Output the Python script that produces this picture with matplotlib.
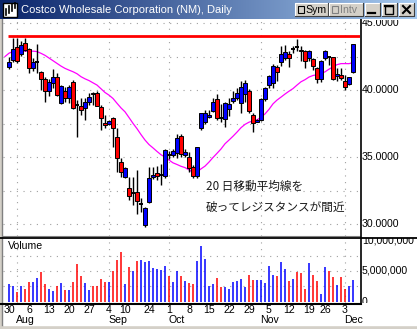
import numpy as np
import matplotlib.pyplot as plt
from matplotlib.patches import Rectangle
from matplotlib.lines import Line2D
from matplotlib.colors import LinearSegmentedColormap
from matplotlib.transforms import blended_transform_factory

# ---- data (Costco daily, 2001-07-30 .. 2001-12-05, trading-day index) ----
opens = [41.69, 42.27, 43.18, 42.67, 43.50, 43.05, 41.63, 42.12, 41.32, 40.81,
         39.97, 40.56, 41.01, 39.06, 39.97, 39.39, 40.57, 38.88, 38.85, 38.70,
         39.09, 39.82, 39.77, 38.73, 37.59, 37.49, 37.91, 36.49, 34.63, 33.56,
         32.74, 32.34, 32.45, 31.53, 29.95, 31.67, 33.55, 33.86, 33.65, 33.63,
         35.28, 35.17, 35.30, 36.55, 35.17, 35.05, 34.25, 33.61, 37.21, 37.66,
         37.98, 38.46, 39.33, 37.96, 37.84, 38.60, 39.20, 39.40, 39.03, 39.68,
         39.95, 38.17, 37.62, 37.78, 39.35, 40.40, 40.50, 41.69, 42.06, 42.39,
         42.69, 43.06, 43.18, 43.00, 42.89, 42.39, 42.34, 41.64, 40.85, 42.39,
         42.44, 42.44, 41.02, 41.09, 40.70, 40.47, 41.34]
closes = [42.09, 43.05, 42.19, 43.39, 42.95, 41.63, 42.12, 42.12, 40.86, 39.97,
          40.63, 41.01, 39.66, 40.31, 39.39, 40.20, 38.70, 38.88, 38.55, 39.14,
          39.49, 39.68, 38.85, 37.91, 37.38, 37.69, 37.16, 34.98, 33.93, 34.18,
          32.13, 32.34, 31.74, 31.53, 31.24, 33.48, 33.72, 33.63, 33.65, 35.57,
          35.14, 35.50, 36.42, 35.22, 35.42, 34.23, 33.61, 35.75, 38.27, 38.28,
          38.16, 39.15, 37.96, 37.96, 39.03, 39.00, 39.42, 39.77, 40.21, 40.50,
          38.42, 37.52, 37.80, 39.37, 40.17, 41.05, 41.80, 41.34, 42.69, 42.84,
          42.39, 43.06, 43.18, 42.89, 42.14, 42.89, 41.77, 40.85, 42.14, 42.89,
          42.44, 40.85, 41.19, 40.90, 40.20, 40.95, 43.43]
highs = [42.50, 43.85, 43.90, 43.65, 43.85, 43.12, 42.39, 43.43, 41.39, 40.95,
         40.85, 41.57, 41.27, 40.40, 40.27, 40.40, 40.75, 39.30, 39.40, 39.40,
         39.78, 39.85, 39.95, 38.90, 38.16, 37.80, 38.03, 37.16, 34.93, 34.25,
         33.56, 33.53, 34.02, 31.94, 31.32, 34.30, 34.30, 34.35, 34.50, 35.60,
         35.45, 35.60, 36.72, 36.72, 35.60, 35.42, 34.43, 35.80, 38.28, 38.53,
         38.53, 39.45, 39.70, 39.00, 39.15, 39.40, 39.90, 40.15, 40.65, 40.77,
         40.05, 38.28, 37.86, 39.40, 40.27, 41.14, 41.94, 41.90, 43.30, 43.33,
         42.89, 43.26, 43.83, 43.30, 42.99, 42.99, 42.40, 41.75, 42.27, 42.99,
         42.50, 42.44, 41.64, 41.64, 41.10, 41.00, 43.43]
lows = [41.59, 42.10, 42.05, 42.55, 42.88, 41.27, 41.39, 41.30, 40.02, 39.15,
        39.60, 40.15, 39.53, 38.96, 39.10, 39.03, 38.60, 36.50, 38.16, 37.74,
        38.86, 38.86, 38.80, 37.04, 37.16, 37.40, 35.80, 33.93, 33.56, 33.48,
        31.82, 31.43, 30.77, 30.90, 29.80, 31.57, 33.40, 33.30, 32.95, 33.48,
        34.90, 35.05, 34.95, 35.05, 35.00, 33.93, 33.43, 33.48, 37.04, 37.50,
        37.90, 38.36, 37.79, 37.66, 37.29, 38.10, 39.03, 39.30, 38.28, 39.15,
        38.28, 36.92, 37.60, 37.70, 39.20, 40.15, 40.15, 40.70, 41.77, 42.27,
        41.69, 42.76, 42.89, 42.20, 41.64, 42.20, 41.50, 40.50, 40.60, 42.27,
        41.90, 40.75, 40.70, 40.75, 40.00, 40.40, 41.30]
volume_m = [2.88, 2.55, 1.63, 2.55, 2.06, 3.20, 3.20, 3.86, 4.89, 2.88,
            2.06, 1.74, 2.55, 3.04, 1.90, 1.90, 3.20, 6.14, 4.18, 3.04,
            1.90, 2.55, 2.55, 3.69, 3.20, 3.20, 5.00, 6.79, 8.09, 2.88,
            5.59, 5.00, 6.62, 6.79, 6.46, 6.62, 5.54, 5.27, 5.16, 5.81,
            4.18, 3.26, 5.00, 4.18, 3.42, 3.10, 2.88, 6.62, 9.12, 6.95,
            2.55, 2.88, 3.86, 2.39, 2.39, 2.06, 3.20, 3.37, 3.69, 2.39,
            4.34, 3.53, 3.53, 3.53, 3.10, 5.81, 4.34, 4.18, 6.46, 5.32,
            3.37, 3.69, 4.83, 4.67, 2.06, 6.30, 4.34, 3.37, 1.25, 5.65,
            5.00, 4.02, 2.72, 4.02, 2.12, 2.55, 3.53]
volume_dir = ("bbrbrrbbrr" "bbrbrbrrrb" "brrrrbrrrb" "rbrbbbbbbb" "rbbrbrrbbb"
              "bbrrbbbbbb" "rrbbbbbrbb" "rbrrrbrrbb" "rrbrrbb")
ma_head = [42.50, 42.75, 42.88, 42.90, 42.90, 42.90, 42.90, 42.90, 42.87, 42.74,
           42.59, 42.39, 42.19, 41.99, 41.79, 41.62, 41.49, 41.37, 41.22, 41.00]
resistance = 44.0

day_ticks = [0, 5, 10, 15, 20, 25, 29, 35, 40, 45, 50, 55, 60, 65, 70, 75, 79, 84]
day_labels = ["30", "6", "13", "20", "27", "4", "10", "24", "1", "8", "15",
              "22", "29", "5", "12", "19", "26", "3"]
month_starts = [2, 25, 40, 63, 84]
month_labels = ["Aug", "Sep", "Oct", "Nov", "Dec"]

price_ticks = [45, 40, 35, 30]
vol_ticks = [10, 5, 0]
vol_tick_labels = ["10,000,000", "5,000,000", "0"]

title = "Costco Wholesale Corporation (NM), Daily"
note1 = "20 日移動平均線を"
note2 = "破ってレジスタンスが間近"

# ---- figure ----
W, H = 417, 329
fig = plt.figure(figsize=(W / 100, H / 100), dpi=100)
fig.patch.set_facecolor('#d4d0c8')
LAB = dict(family='Liberation Sans', fontsize=7.6, color='black')
CJK = ['Noto Sans CJK JP', 'DejaVu Sans']


def fbox(x0, y0, x1, y1):
    return [x0 / W, 1 - y1 / H, (x1 - x0) / W, (y1 - y0) / H]


fig.add_artist(Rectangle((3 / W, 1 - 325 / H), 414 / W, 306 / H,
                         transform=fig.transFigure, color='white', zorder=0))
fig.add_artist(Line2D([2 / W, 2 / W], [1 - 325 / H, 1 - 19 / H],
                      transform=fig.transFigure, color='#808080', lw=1))

n = len(closes)
x = np.arange(n)
XL = (-1.5, 87.75)
grid_kw = dict(color='#a0a0a0', lw=0.8, linestyle=(0, (1, 5)), zorder=1)

# price panel
ax = fig.add_axes(fbox(3, 20, 360, 235.5))
ax.set_xlim(*XL)
ax.set_ylim(29.18, 45.22)
for s in ['top', 'left', 'right']:
    ax.spines[s].set_visible(False)
ax.spines['bottom'].set_color('#808080')
ax.set_xticks([])
ax.set_yticks([])
for v in np.arange(30, 45.1, 2.5):
    ax.axhline(v, **grid_kw)
for m in month_starts:
    ax.axvline(m, **grid_kw)

ax.hlines(resistance, -0.3, XL[1], color='#ff0000', lw=2, zorder=3)

closes_arr = np.array(closes)
ma_tail = [closes_arr[i - 19:i + 1].mean() for i in range(19, n)]
ma_x = np.arange(-1, n)
ma = np.array(ma_head + ma_tail)
ax.plot(ma_x, ma, color='#ff00ff', lw=0.9, zorder=2)

for i in range(n):
    o, c = opens[i], closes[i]
    ax.vlines(i, lows[i], highs[i], color='black', lw=1.0, zorder=4)
    if abs(c - o) < 0.02:
        ax.hlines(o, i - 0.45, i + 0.45, color='black', lw=1.4, zorder=5)
    else:
        col = '#0000ff' if c > o else '#ff0000'
        ax.bar(i, abs(c - o), bottom=min(o, c), width=0.8, color=col,
               edgecolor='black', linewidth=0.7, zorder=5)

ax.text(49.25, 32.84, note1, family=CJK, fontsize=8.4, color='#1a1a1a',
        ha='left', va='center', zorder=6)
ax.text(49.25, 31.27, note2, family=CJK, fontsize=8.4, color='#1a1a1a',
        ha='left', va='center', zorder=6)

# volume panel
av = fig.add_axes(fbox(3, 238, 360, 303))
av.set_xlim(*XL)
av.set_ylim(-0.21, 10.37)
for s in av.spines.values():
    s.set_visible(False)
av.set_xticks([])
av.set_yticks([])
for v in [2.5, 5, 7.5]:
    av.axhline(v, **grid_kw)
for m in month_starts:
    av.axvline(m, **grid_kw)
vcols = ['#0000ff' if d == 'b' else '#ff0000' for d in volume_dir]
av.vlines(x, 0, volume_m, colors=vcols, lw=1.1, zorder=3)
av.text(5 / 357, 0.88, "Volume", transform=av.transAxes, ha='left', va='center',
        **LAB)

# right-hand labels (clipped like the panels)
apl = fig.add_axes(fbox(361, 20, 417, 235.5))
apl.set_xlim(361, 417)
apl.set_ylim(29.18, 45.22)
apl.axis('off')
for v in price_ticks:
    apl.text(362, v, f"{v:.4f}", ha='left', va='center', clip_on=True, **LAB)

avl = fig.add_axes(fbox(361, 238, 417, 303))
avl.set_xlim(361, 417)
avl.set_ylim(-0.21, 10.37)
avl.axis('off')
for v, t in zip(vol_ticks, vol_tick_labels):
    avl.text(362, v, t, ha='left', va='center', clip_on=True, **LAB)

# frame lines
fig.add_artist(Line2D([0, 1], [1 - 237.5 / H] * 2, transform=fig.transFigure,
                      color='black', lw=1.3))
fig.add_artist(Line2D([0, 361 / W], [1 - 303.5 / H] * 2,
                      transform=fig.transFigure, color='black', lw=1.5))
fig.add_artist(Line2D([360.5 / W] * 2, [1 - 303.5 / H, 1 - 19 / H],
                      transform=fig.transFigure, color='black', lw=1.2))

# date labels
tr = blended_transform_factory(av.transData, fig.transFigure)
for i, t in zip(day_ticks, day_labels):
    av.text(i, 1 - 310 / H, t, transform=tr, ha='center', va='center', **LAB)
for i, t in zip(month_starts, month_labels):
    av.text(i - 0.2, 1 - 320 / H, t, transform=tr, ha='left', va='center', **LAB)

# title bar
at = fig.add_axes(fbox(0, 0, 417, 19), zorder=10)
cmap = LinearSegmentedColormap.from_list('tb', ['#0a246a', '#a6caf0'])
at.imshow(np.linspace(0, 1, 256)[None, :], cmap=cmap, aspect='auto',
          extent=(0, 417, 19, 0))
at.set_xlim(0, 417)
at.set_ylim(19, 0)
at.axis('off')

at.add_patch(Rectangle((3, 2.5), 14, 14, facecolor='white', edgecolor='black', lw=1))
for xx, y0, y1 in [(6, 9, 15), (9, 6, 13), (12, 4, 11), (15, 3, 8)]:
    at.plot([xx, xx], [y0, y1], color='black', lw=1.2)
at.text(21, 9.8, title, color='white', family='Liberation Sans', fontsize=8,
        ha='left', va='center')


def button(x0, x1):
    at.add_patch(Rectangle((x0, 3), x1 - x0, 13, facecolor='#d4d0c8',
                           edgecolor='none'))
    at.plot([x0, x0, x1], [16, 3, 3], color='white', lw=0.8)
    at.plot([x0, x1, x1], [16, 16, 3], color='#404040', lw=0.8)


button(295, 328)
at.add_patch(Rectangle((298, 6), 6, 7, facecolor='#d4d0c8', edgecolor='black', lw=0.8))
at.text(305, 10, "Sym", color='black', family='Liberation Sans', fontsize=7.6,
        ha='left', va='center')
button(329, 363)
at.add_patch(Rectangle((332, 6), 6, 7, facecolor='#d4d0c8', edgecolor='#808080', lw=0.8))
at.text(340, 10, "Intv", color='#808080', family='Liberation Sans', fontsize=7.6,
        ha='left', va='center')
button(365, 380)
at.plot([368.5, 375], [13, 13], color='black', lw=1.6)
button(382, 397)
at.add_patch(Rectangle((385, 5.5), 8.5, 8, facecolor='none', edgecolor='black', lw=1))
at.plot([385, 393.5], [6, 6], color='black', lw=1.6)
button(399, 414)
at.plot([403, 410], [6, 13], color='black', lw=1.5)
at.plot([403, 410], [13, 6], color='black', lw=1.5)

fig.savefig('out.png', dpi=100, facecolor=fig.get_facecolor())
